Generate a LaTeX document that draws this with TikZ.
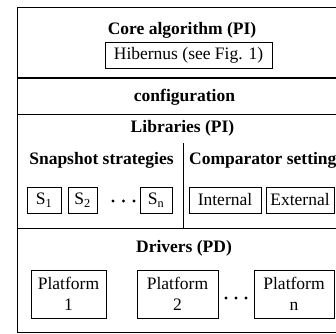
\documentclass[tikz,border=0pt]{standalone}
\usepackage{fontspec}
\setmainfont{Liberation Serif}
\begin{document}
\begin{tikzpicture}[x=1pt,y=-1pt,
  every node/.style={font=\fontsize{17.5}{21}\selectfont},
  title/.style={font=\fontsize{17.5}{21}\selectfont\bfseries, inner sep=0pt},
  itembox/.style={draw, line width=0.8pt, inner sep=0pt, align=center},
  panel/.style={line width=0.9pt},
  dotmark/.style={fill=black, circle, inner sep=0pt, minimum size=3.2pt}]
\useasboundingbox (0,0) rectangle (336,333);
\clip (0,0) rectangle (336,333);
% outer frame and dividers
\draw[panel] (17.5,7) rectangle (346,332);
\draw[line width=1.8pt] (17.5,78) -- (346,78);
\draw[panel] (17.5,114) -- (346,114);
\draw[panel] (17.5,228) -- (346,228);
\draw[panel] (183,143) -- (183,228);
% core
\node[title] (core) at (182,30) {Core algorithm (PI)};
\node[itembox, minimum width=167pt, minimum height=26pt] (hib) at (188.5,55) {Hibernus (see Fig. 1)};
% configuration
\node[title] (conf) at (184.5,97) {configuration};
% libraries
\node[title] (lib) at (182.5,128) {Libraries (PI)};
\node[title] (snap) at (101.5,160) {Snapshot strategies};
\node[title, anchor=west] (comp) at (189,160) {Comparator setting};
\node[itembox, minimum width=34pt, minimum height=26pt] (s1) at (44,200) {S\textsubscript{1}};
\node[itembox, minimum width=29pt, minimum height=26pt] (s2) at (82.5,200) {S\textsubscript{2}};
\node[itembox, minimum width=32pt, minimum height=26pt] (sn) at (156,200) {S\textsubscript{n}};
\node[dotmark] (d1) at (113,201) {};
\node[dotmark] (d2) at (123.5,201) {};
\node[dotmark] (d3) at (134,201) {};
\node[itembox, minimum width=72pt, minimum height=26pt] (int) at (225,200) {Internal};
\node[itembox, minimum width=68pt, minimum height=26pt] (ext) at (300,200) {External};
% drivers
\node[title] (drv) at (184,248) {Drivers (PD)};
\node[itembox, minimum width=75pt, minimum height=48pt] (p1) at (68.5,294) {Platform\\1};
\node[itembox, minimum width=81pt, minimum height=48pt] (p2) at (177.5,294) {Platform\\2};
\node[itembox, minimum width=80pt, minimum height=48pt] (pn) at (294,294) {Platform\\n};
\node[dotmark] (e1) at (226,298) {};
\node[dotmark] (e2) at (236,298) {};
\node[dotmark] (e3) at (246,298) {};
\end{tikzpicture}
\end{document}
